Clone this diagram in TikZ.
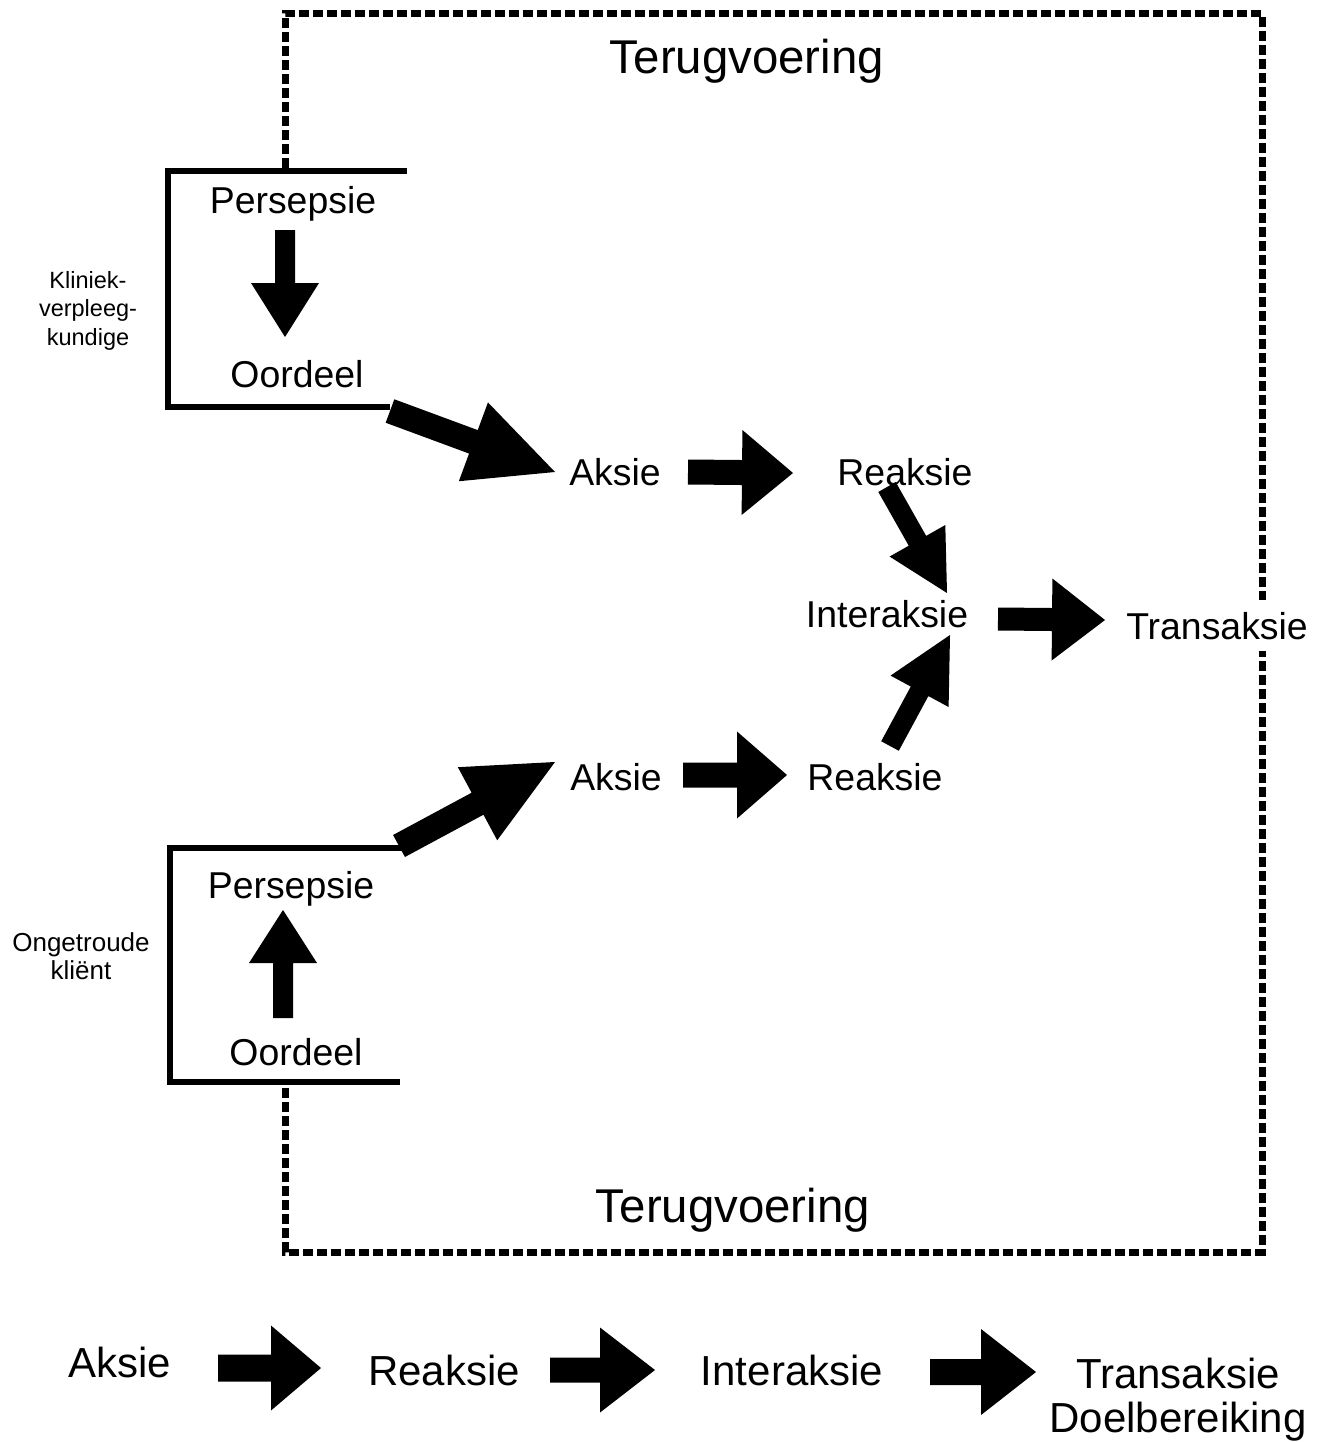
\documentclass[tikz,border=0pt]{standalone}
\usepackage{fontspec}
\setmainfont{Liberation Sans}
\usetikzlibrary{calc}
% block arrow: #1 tail, #2 tip, #3 half shaft width, #4 half head width, #5 head length
\newcommand{\blockarrow}[5]{%
  \coordinate (bah) at ($(#2)!#5!(#1)$);
  \fill[barrow] ($(#1)!#3!90:(#2)$) -- ($(bah)!#3!90:(#2)$) -- ($(bah)!#4!90:(#2)$)
    -- (#2) -- ($(bah)!#4!-90:(#2)$) -- ($(bah)!#3!-90:(#2)$) -- ($(#1)!#3!-90:(#2)$) -- cycle;
}
\begin{document}
\begin{tikzpicture}[x=1pt,y=-1pt,
  barrow/.style={black},
  bracket/.style={line width=6pt,line cap=butt,line join=miter},
  feedback/.style={line width=7pt,dash pattern=on 10pt off 4pt},
  lbl/.style={anchor=base,inner sep=0pt,font=\fontsize{37.4}{44}\selectfont},
  big/.style={anchor=base,inner sep=0pt,font=\fontsize{47.4}{56}\selectfont},
  low/.style={anchor=base,inner sep=0pt,font=\fontsize{42}{44}\selectfont,align=center},
  side/.style={anchor=base,inner sep=0pt,align=center}]
\useasboundingbox (0,0) rectangle (1326,1442);

% feedback dashed loop
\draw[feedback] (285,168) -- (285,14) -- (1262,14) -- (1262,1252) -- (285,1252) -- (285,1085);

% brackets
\draw[bracket] (407,171) -- (168,171) -- (168,407) -- (390,407);
\draw[bracket] (402,848) -- (170,848) -- (170,1082) -- (400,1082);

% texts
\node[big] (T1) at (747,74) {Terugvoering};
\node[big] (T2) at (733,1222) {Terugvoering};
\node[lbl] (P1) at (293,213) {Persepsie};
\node[lbl] (O1) at (297,387) {Oordeel};
\node[lbl] (A1) at (615,485) {Aksie};
\node[lbl] (R1) at (905,485) {Reaksie};
\node[lbl] (I)  at (887,627) {Interaksie};
\node[lbl,fill=white,inner xsep=0pt,inner ysep=12pt] (Tr) at (1217,639) {Transaksie};
\node[lbl] (A2) at (616,790) {Aksie};
\node[lbl] (R2) at (875,790) {Reaksie};
\node[lbl] (P2) at (291,898) {Persepsie};
\node[lbl] (O2) at (296,1065) {Oordeel};
\node[side,font=\fontsize{23.5}{28.5}\selectfont] (K) at (88,345) {Kliniek-\\verpleeg-\\kundige};
\node[side,font=\fontsize{26}{28}\selectfont] (C) at (81,979) {Ongetroude\\kliënt};

\node[low] (BA) at (120,1377) {Aksie};
\node[low] (BR) at (444,1385) {Reaksie};
\node[low] (BI) at (792,1385) {Interaksie};
\node[low] (BT) at (1178,1432) {Transaksie\\Doelbereiking};

% arrow end points
\coordinate (p1s) at (285,230);  \coordinate (p1e) at (285,337);
\coordinate (o1s) at (390,411);  \coordinate (o1e) at (555,472);
\coordinate (a1s) at (688,472);  \coordinate (a1e) at (793,473);
\coordinate (r1s) at (887,487);  \coordinate (r1e) at (947,593);
\coordinate (r2s) at (890,746);  \coordinate (r2e) at (950,635);
\coordinate (is)  at (998,619);  \coordinate (ie)  at (1105,620);
\coordinate (p2s) at (399,846);  \coordinate (p2e) at (555,762);
\coordinate (a2s) at (683,775);  \coordinate (a2e) at (787,775);
\coordinate (o2s) at (283,1018); \coordinate (o2e) at (283,910);
\coordinate (b1s) at (218,1368); \coordinate (b1e) at (321,1368);
\coordinate (b2s) at (550,1370); \coordinate (b2e) at (655,1370);
\coordinate (b3s) at (930,1372); \coordinate (b3e) at (1036,1372);

% block arrows
\blockarrow{p1s}{p1e}{10pt}{34pt}{54pt}
\blockarrow{o1s}{o1e}{12.5pt}{42pt}{87pt}
\blockarrow{a1s}{a1e}{12.5pt}{42.5pt}{51pt}
\blockarrow{r1s}{r1e}{10pt}{32pt}{60pt}
\blockarrow{r2s}{r2e}{10pt}{33pt}{64pt}
\blockarrow{is}{ie}{11.5pt}{41pt}{53pt}
\blockarrow{p2s}{p2e}{12.5pt}{41.5pt}{88pt}
\blockarrow{a2s}{a2e}{12.5pt}{43.5pt}{50pt}
\blockarrow{o2s}{o2e}{10pt}{34pt}{53pt}
\blockarrow{b1s}{b1e}{13.5pt}{42.5pt}{50pt}
\blockarrow{b2s}{b2e}{12.5pt}{42.5pt}{55pt}
\blockarrow{b3s}{b3e}{13pt}{43pt}{55pt}
\end{tikzpicture}
\end{document}
